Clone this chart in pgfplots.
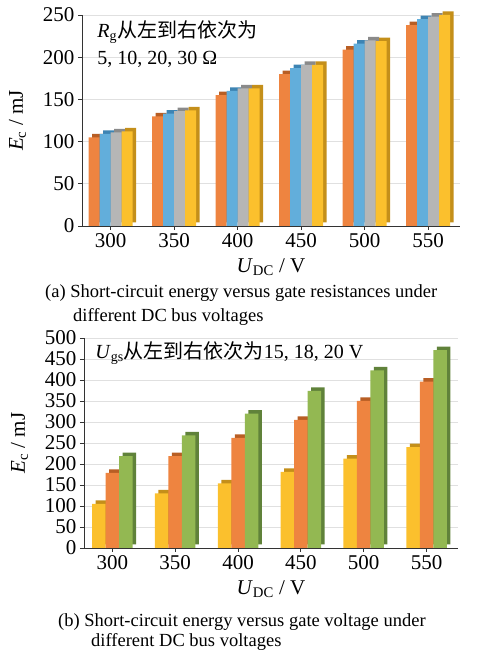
\documentclass[border=0pt]{standalone}
\usepackage{pgfplots}
\pgfplotsset{compat=1.18}
\usepackage{fontspec}
\setmainfont{Liberation Serif}
\newfontfamily\cjk{Noto Sans CJK SC}

\definecolor{cOr}{HTML}{EE8440}\definecolor{dOr}{HTML}{B85E24}
\definecolor{cBl}{HTML}{62AEDB}\definecolor{dBl}{HTML}{3D84B3}
\definecolor{cGr}{HTML}{B6B6B6}\definecolor{dGr}{HTML}{8A8A8A}
\definecolor{cYe}{HTML}{FBC02D}\definecolor{dYe}{HTML}{C48F1A}
\definecolor{cGn}{HTML}{93B852}\definecolor{dGn}{HTML}{60823A}

\pgfplotstableread{
x a b c d
0 105 109 111 112
1 130 133 136 137
2 155 160 163 163
3 180 187 191 191
4 209 216 220 219
5 238 245 248 250
}\tabA
\pgfplotstableread{
x a b c
0 105 179 219
1 130 219 268
2 154 262 320
3 181 305 374
4 213 350 423
5 240 396 471
}\tabB

\pgfplotsset{
  mybase/.style={
    scale only axis,
    anchor=south west,
    xmin=-0.45, xmax=5.5,
    ymin=0,
    xtick={0,...,5},
    xticklabels={300,350,400,450,500,550},
    axis x line*=bottom, axis y line*=left,
    axis line style={black!80, line width=0.9pt},
    tick style={black!80, line width=0.8pt},
    major tick length=4pt,
    tick align=outside,
    ymajorgrids, grid style={black!12, line width=0.6pt},
    tick label style={font=\fontsize{21}{21}\selectfont},
    /pgf/number format/assume math mode=true,
    xlabel={\textit{U}\textsubscript{DC} / V},
    ylabel={\textit{E}\textsubscript{c} / mJ},
    label style={font=\fontsize{21}{21}\selectfont},
    xlabel style={yshift=-4pt},
    ylabel style={yshift=10pt},
    clip=false,
  },
  sh/.style={ybar, bar width=#1, draw=none, xshift=3.5pt, yshift=3.5pt},
  fr/.style={ybar, bar width=#1, draw=none},
}

\begin{document}
\begin{tikzpicture}
\useasboundingbox (0,0) rectangle (496pt,655pt);
% (a)
\begin{axis}[mybase, at={(82pt,429pt)}, width=378pt, height=211pt,
  ymax=250, ytick={0,50,...,250}]
\addplot[sh=11pt, bar shift=-16.5pt, fill=dOr] table[x=x,y=a]{\tabA};
\addplot[fr=11pt, bar shift=-16.5pt, fill=cOr] table[x=x,y=a]{\tabA};
\addplot[sh=11pt, bar shift=-5.5pt, fill=dBl] table[x=x,y=b]{\tabA};
\addplot[fr=11pt, bar shift=-5.5pt, fill=cBl] table[x=x,y=b]{\tabA};
\addplot[sh=11pt, bar shift=5.5pt, fill=dGr] table[x=x,y=c]{\tabA};
\addplot[fr=11pt, bar shift=5.5pt, fill=cGr] table[x=x,y=c]{\tabA};
\addplot[sh=11pt, bar shift=16.5pt, fill=dYe] table[x=x,y=d]{\tabA};
\addplot[fr=11pt, bar shift=16.5pt, fill=cYe] table[x=x,y=d]{\tabA};
\node[anchor=north west, align=left, font=\fontsize{20}{27}\selectfont, inner sep=0pt]
  at (rel axis cs:0.04,0.975) {\textit{R}\textsubscript{g}{\cjk 从左到右依次为}\\5, 10, 20, 30 Ω};
\end{axis}
% (b)
\begin{axis}[mybase, at={(84pt,107pt)}, width=374pt, height=210pt,
  ymax=500, ytick={0,50,...,500}]
\addplot[sh=13.5pt, bar shift=-13.5pt, fill=dYe] table[x=x,y=a]{\tabB};
\addplot[fr=13.5pt, bar shift=-13.5pt, fill=cYe] table[x=x,y=a]{\tabB};
\addplot[sh=13.5pt, bar shift=0pt, fill=dOr] table[x=x,y=b]{\tabB};
\addplot[fr=13.5pt, bar shift=0pt, fill=cOr] table[x=x,y=b]{\tabB};
\addplot[sh=13.5pt, bar shift=13.5pt, fill=dGn] table[x=x,y=c]{\tabB};
\addplot[fr=13.5pt, bar shift=13.5pt, fill=cGn] table[x=x,y=c]{\tabB};
\node[anchor=north west, align=left, font=\fontsize{20}{27}\selectfont, inner sep=0pt]
  at (rel axis cs:0.03,0.985) {\textit{U}\textsubscript{gs}{\cjk 从左到右依次为}15, 18, 20 V};
\end{axis}
% captions
\node[anchor=west, font=\fontsize{18.5}{23}\selectfont, inner sep=0pt] at (45pt,362pt)
  {(a) Short-circuit energy versus gate resistances under};
\node[anchor=west, font=\fontsize{18.5}{23}\selectfont, inner sep=0pt] at (73pt,338pt)
  {different DC bus voltages};
\node[anchor=west, font=\fontsize{18.5}{23}\selectfont, inner sep=0pt] at (58pt,33pt)
  {(b) Short-circuit energy versus gate voltage under};
\node[anchor=west, font=\fontsize{18.5}{23}\selectfont, inner sep=0pt] at (91pt,13pt)
  {different DC bus voltages};
\end{tikzpicture}
\end{document}
